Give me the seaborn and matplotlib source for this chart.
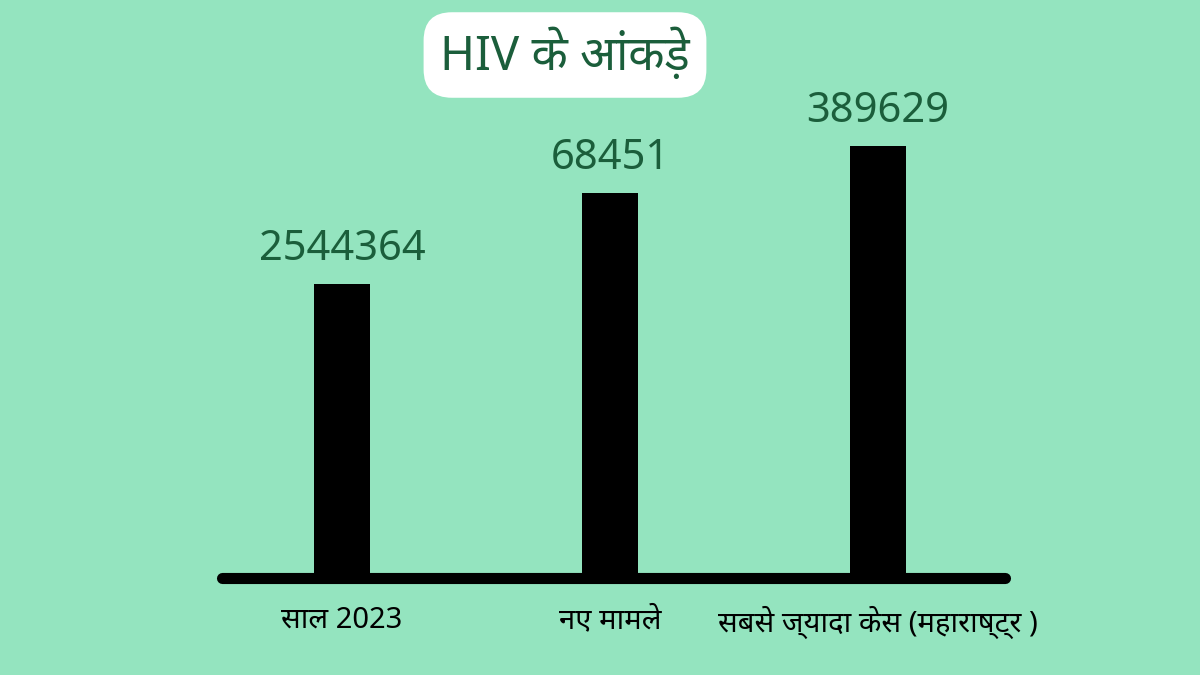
import matplotlib
matplotlib.use("Agg")
import matplotlib.pyplot as plt
import seaborn as sns
import pandas as pd

categories = ["साल 2023", "नए मामले", "सबसे ज्यादा केस (महाराष्ट्र )"]
value_labels = ["2544364", "68451", "389629"]
# bar heights as drawn in the graphic (not proportional to the numbers)
bar_heights = [294, 385, 432]

bg = "#94e4bf"
green = "#1b5e3b"

sns.set_theme(style="white")
plt.rcParams["font.family"] = ["Noto Sans", "DejaVu Sans"]

fig = plt.figure(figsize=(12, 6.75), dpi=100, facecolor=bg)
ax = fig.add_axes([222 / 1200, 97 / 675, 783 / 1200, 478 / 675])
ax.set_facecolor(bg)

df = pd.DataFrame({"cat": categories, "h": bar_heights})
sns.barplot(data=df, x="cat", y="h", color="black", width=0.21, saturation=1,
            linewidth=0, ax=ax)

for i, (h, lab) in enumerate(zip(bar_heights, value_labels)):
    ax.text(i, h + 14, lab, ha="center", va="bottom", fontsize=30,
            color=green, fontweight="medium")

ax.set_xlim(-0.448, 2.474)
ax.set_ylim(0, 478)
ax.set_yticks([])
ax.set_xlabel("")
ax.set_ylabel("")
for s in ["top", "right", "left"]:
    ax.spines[s].set_visible(False)
ax.spines["bottom"].set_linewidth(8)
ax.spines["bottom"].set_color("black")
ax.spines["bottom"].set_capstyle("round")
ax.tick_params(axis="x", length=0, pad=20, labelsize=21, labelcolor="black")
for t in ax.get_xticklabels():
    t.set_fontweight("medium")

fig.text(565 / 1200, 1 - 55 / 675, "HIV के आंकड़े", ha="center", va="center",
         fontsize=34, color=green, fontweight="medium",
         bbox=dict(boxstyle="round,pad=0.35,rounding_size=0.6", fc="white", ec="none"))

fig.savefig("out.png", dpi=100, facecolor=bg)
